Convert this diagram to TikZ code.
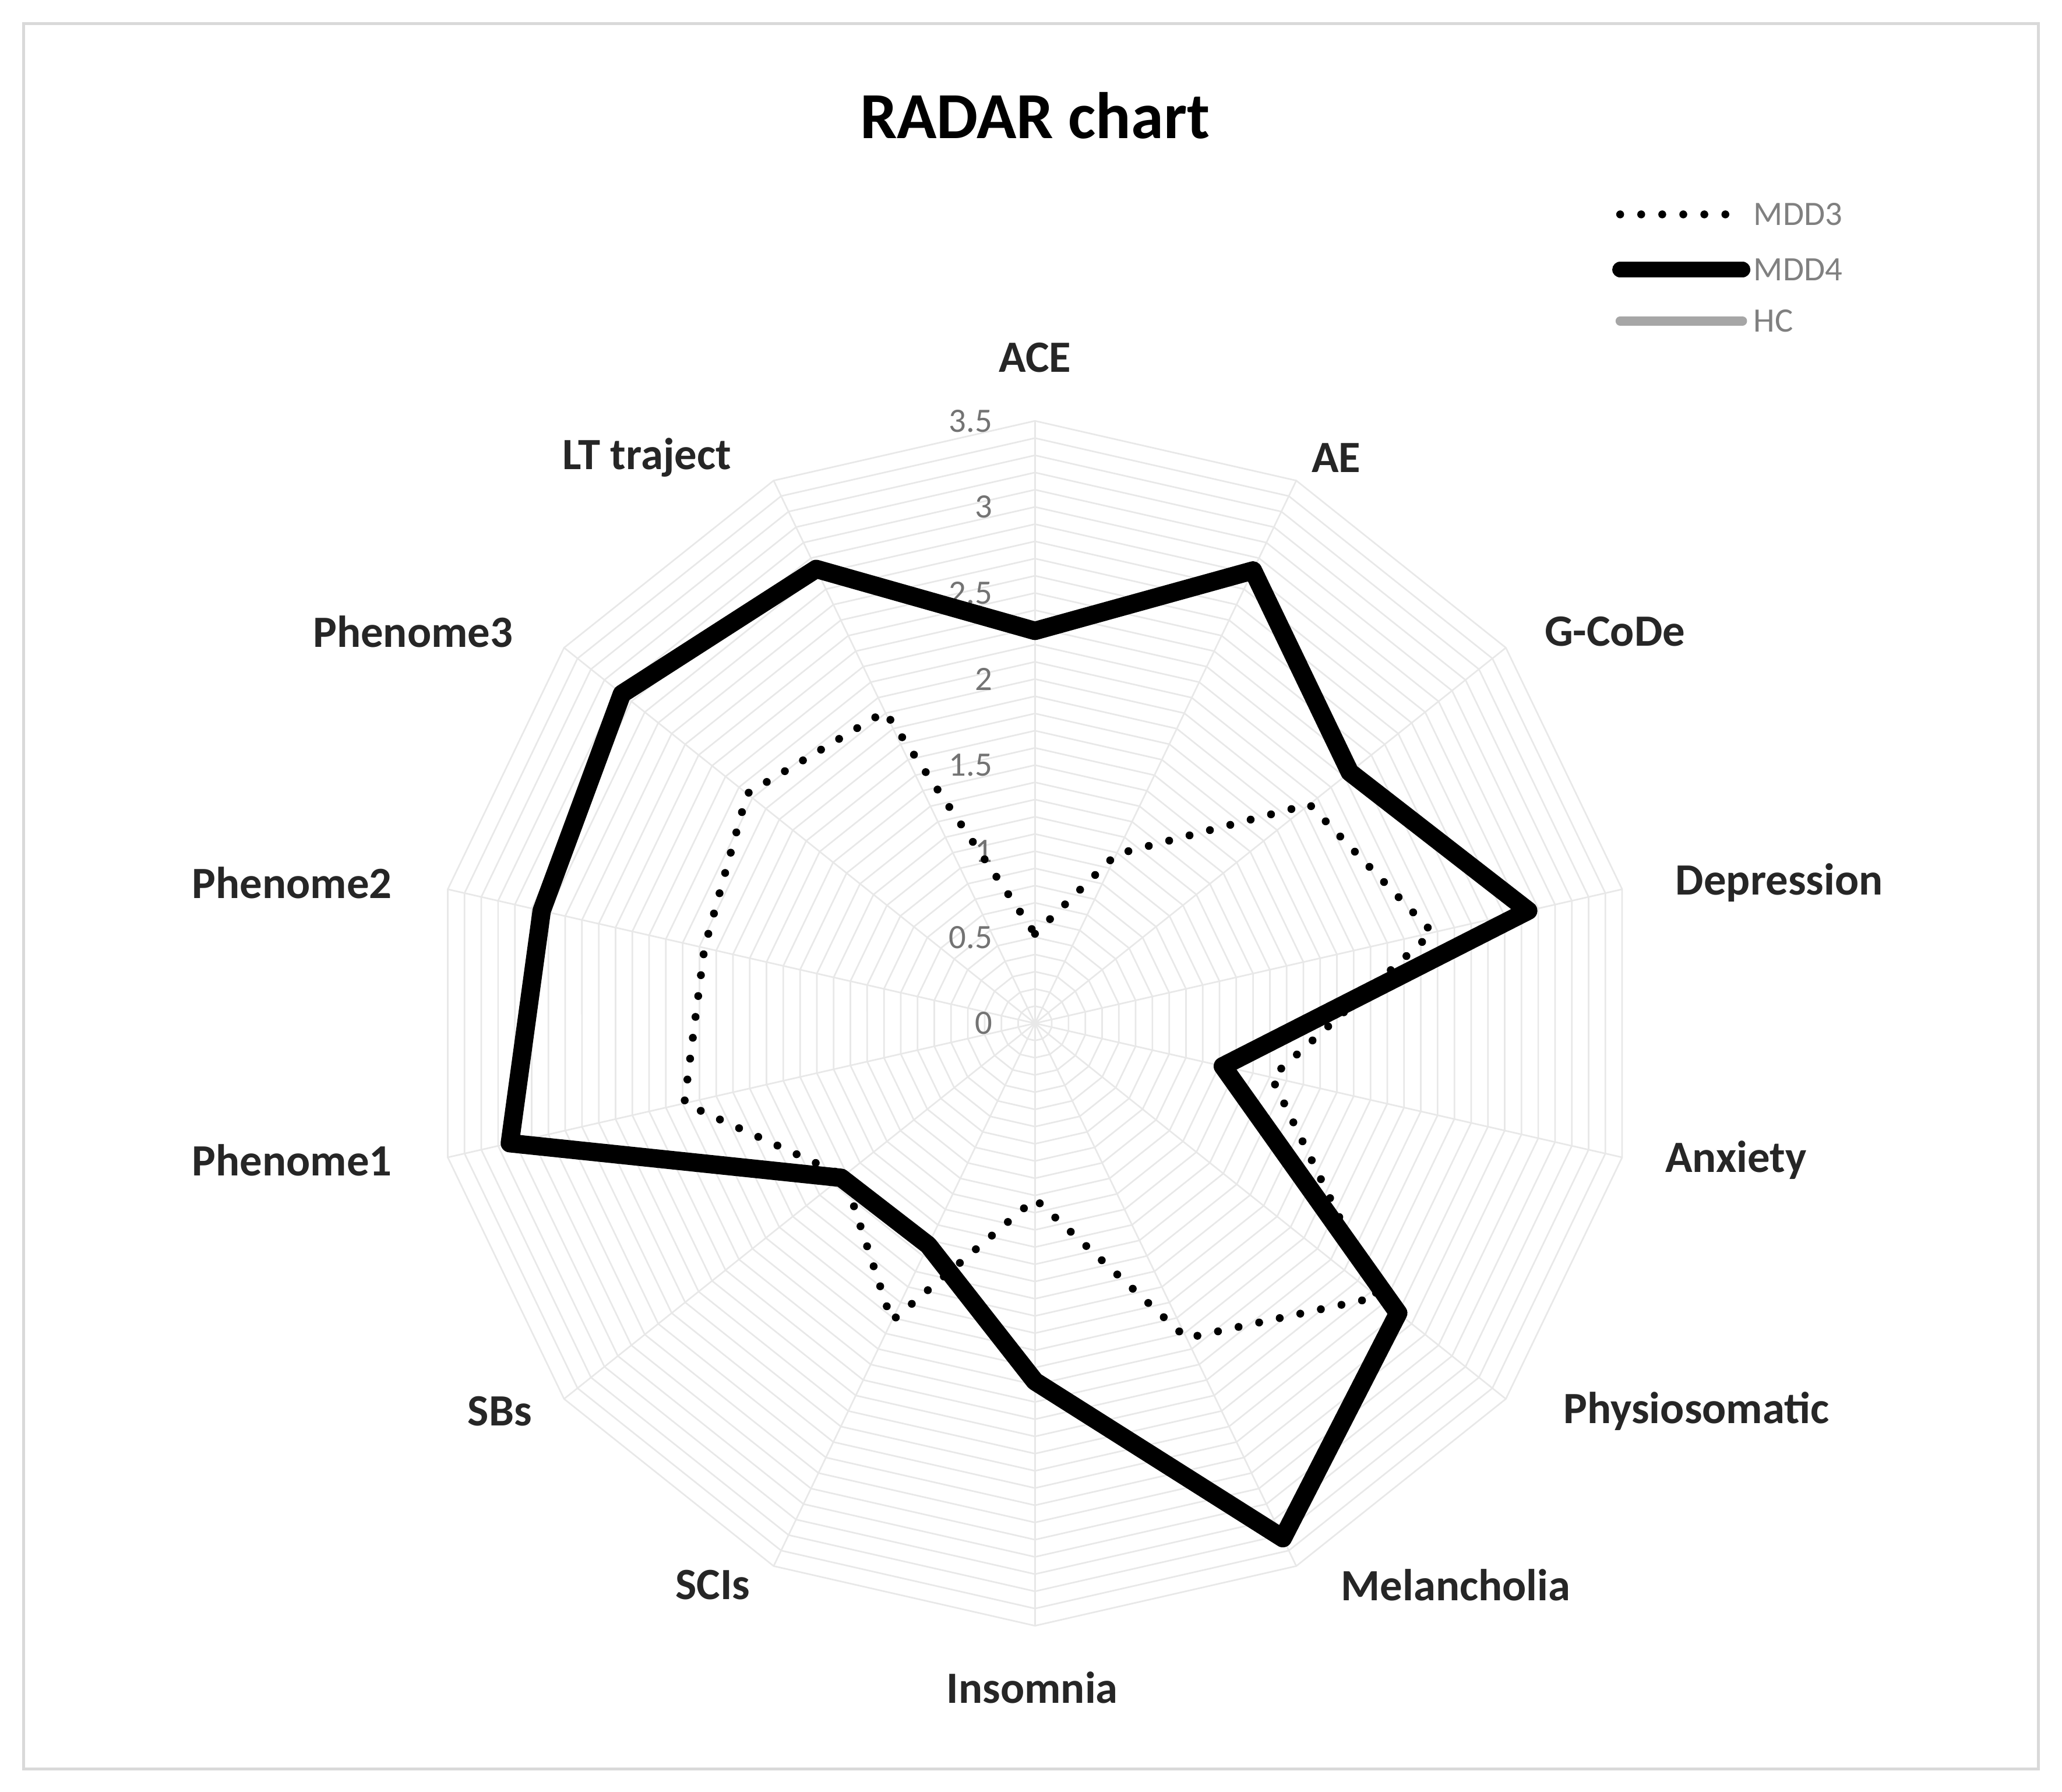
\documentclass[tikz,border=0pt]{standalone}
\usepackage{fontspec}
\setmainfont{Carlito}
\begin{document}
\begin{tikzpicture}[x=1pt,y=-1pt,
  grid/.style={draw=black!9,line width=1.2pt},
  axlab/.style={font=\bfseries\fontsize{34}{38}\selectfont,text=black!85},
  tick/.style={font=\fontsize{26}{30}\selectfont,text=black!55},
  leg/.style={font=\fontsize{26}{30}\selectfont,text=black!50,anchor=west},
  mddfour/.style={line width=14pt,line join=round,black},
  mddthree/.style={line width=6pt,line cap=round,dash pattern=on 0pt off 16pt,black}]
\useasboundingbox (0,0) rectangle (1568,1362);
\draw[black!15,line width=2pt] (18,18) rectangle (1550,1345);
\node[font=\bfseries\fontsize{50}{56}\selectfont] (title) at (787,88) {RADAR chart};
% rings
\foreach \k in {1,...,35}{
  \pgfmathsetmacro\r{\k*130.86/10}
  \draw[grid] (787,{778-\r}) \foreach \i in {1,...,13}{ -- ({787+\r*sin(\i*360/14)},{778-\r*cos(\i*360/14)}) } -- cycle;
}
\foreach \i in {0,...,13}{
  \draw[grid] (787,778) -- ({787+458*sin(\i*360/14)},{778-458*cos(\i*360/14)});
}
% ticks
\foreach \v/\t [count=\n] in {0/0,0.5/0.5,1/1,1.5/1.5,2/2,2.5/2.5,3/3,3.5/3.5}{
  \node[tick,anchor=east] (t\n) at (758,{778-\v*130.86}) {\t};
}
% labels
\node[axlab] (l0) at (787,272) {ACE};
\node[axlab] (l1) at (1016,348) {AE};
\node[axlab] (l2) at (1228,480) {G-CoDe};
\node[axlab] (l3) at (1353,671) {Depression};
\node[axlab] (l4) at (1320,882) {Anxiety};
\node[axlab] (l5) at (1290,1073) {Physiosomatic};
\node[axlab] (l6) at (1107,1205) {Melancholia};
\node[axlab] (l7) at (785,1283) {Insomnia};
\node[axlab] (l8) at (542,1205) {SCIs};
\node[axlab] (l9) at (380,1073) {SBs};
\node[axlab] (l10) at (222,882) {Phenome1};
\node[axlab] (l11) at (222,671) {Phenome2};
\node[axlab] (l12) at (314,480) {Phenome3};
\node[axlab] (l13) at (492,348) {LT traject};
% data points
\foreach \v [count=\c from 0] in {0.52,1.09,2.04,2.37,1.41,2.55,2.03,1.02,1.92,1.42,2.09,1.97,2.14,2.01}{
  \coordinate (p\c) at ({787+\v*130.86*sin(\c*360/14)},{778-\v*130.86*cos(\c*360/14)});
}
\foreach \v [count=\c from 0] in {2.28,2.92,2.34,2.94,1.12,2.7,3.32,2.08,1.43,1.44,3.13,2.94,3.07,2.93}{
  \coordinate (q\c) at ({787+\v*130.86*sin(\c*360/14)},{778-\v*130.86*cos(\c*360/14)});
}
\draw[mddthree] (p0) \foreach \i in {1,...,13}{ -- (p\i) } -- cycle;
\draw[mddfour] (q0) \foreach \i in {1,...,13}{ -- (q\i) } -- cycle;
% legend
\coordinate (a1) at (1232,163); \coordinate (b1) at (1325,163);
\coordinate (a2) at (1232,205); \coordinate (b2) at (1325,205);
\coordinate (a3) at (1232,244); \coordinate (b3) at (1325,244);
\draw[mddthree] (a1) -- (b1);
\draw[line width=12pt,line cap=round] (a2) -- (b2);
\draw[line width=7pt,line cap=round,black!35] (a3) -- (b3);
\node[leg] (m3) at (1330,163) {MDD3};
\node[leg] (m4) at (1330,205) {MDD4};
\node[leg] (hc) at (1330,244) {HC};
\end{tikzpicture}
\end{document}
